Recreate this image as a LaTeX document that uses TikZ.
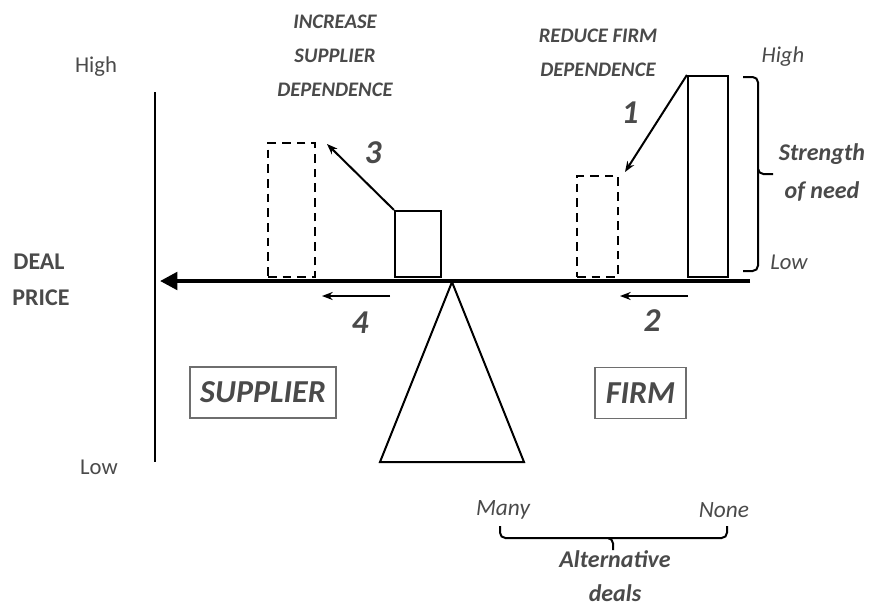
\documentclass[tikz,border=0pt]{standalone}
\usepackage{fontspec}
\setmainfont{Carlito}
\usetikzlibrary{arrows.meta,calc}
\definecolor{txt}{HTML}{4A4A4A}
\begin{document}
\begin{tikzpicture}[x=0.75pt,y=-0.75pt,line width=1.5pt,
  lbl/.style={text=txt,font=\bfseries\itshape,inner sep=0pt},
  plain/.style={text=txt,inner sep=0pt},
  solidbox/.style={draw,line width=1.6pt,inner sep=0pt},
  dashbox/.style={draw,line width=1.6pt,dash pattern=on 6.5pt off 4.5pt,inner sep=0pt},
  namebox/.style={draw=txt!80,line width=0.8pt,text=txt,font=\fontsize{24}{28}\bfseries\itshape\selectfont,inner sep=0pt},
  num/.style={text=txt,font=\fontsize{25}{28}\bfseries\itshape\selectfont,inner sep=0pt},
  thinarrow/.style={-{Stealth[length=8pt,width=6pt]},line width=1.5pt}]
\useasboundingbox (0,0) rectangle (869,608);
% axis
\coordinate (axtop) at (155,92);
\coordinate (axbot) at (155,462);
\draw (axtop) -- (axbot);
\node[plain,font=\fontsize{17}{18}\selectfont] (hiL) at (96,67) {High};
\node[plain,font=\fontsize{17}{18}\selectfont] (loL) at (99,467) {Low};
\node[plain,font=\fontsize{18}{18}\bfseries\selectfont] (deal) at (39,262) {DEAL};
\node[plain,font=\fontsize{18}{18}\bfseries\selectfont] (price) at (41,298) {PRICE};
% beam
\coordinate (beamR) at (750,281);
\coordinate (beamL) at (160,281);
\draw[line width=3pt,-{Triangle[length=13pt,width=13pt]}] (beamR) -- (beamL);
% fulcrum
\coordinate (apex) at (452,282);
\coordinate (baseL) at (380,462);
\coordinate (baseR) at (524,462);
\draw[line width=1.5pt,line join=miter] (apex) -- (baseL) -- (baseR) -- cycle;
% supplier boxes
\node[solidbox,minimum width=34.5pt,minimum height=49.5pt] (sup) at (418,244) {};
\node[dashbox,minimum width=35.25pt,minimum height=100.5pt] (supd) at (291.5,210) {};
\coordinate (a3end) at (327,144);
\draw[thinarrow] (sup.north west) -- (a3end);
\node[num] (n3) at (373,153) {3};
% firm boxes
\node[dashbox,minimum width=30.75pt,minimum height=75.75pt] (firmd) at (597.5,226.5) {};
\node[solidbox,minimum width=30pt,minimum height=150.75pt] (firm) at (708,176.5) {};
\coordinate (a1end) at (625,172);
\draw[thinarrow] (firm.north west) -- (a1end);
\node[num] (n1) at (630,113) {1};
% small arrows 2 and 4
\coordinate (a2s) at (688,296);
\coordinate (a2e) at (620,296);
\draw[thinarrow] (a2s) -- (a2e);
\node[num] (n2) at (652,321) {2};
\coordinate (a4s) at (390,296);
\coordinate (a4e) at (322,296);
\draw[thinarrow] (a4s) -- (a4e);
\node[num] (n4) at (360,323) {4};
% top labels
\node[lbl,align=center,font=\fontsize{15.5}{25.5}\bfseries\itshape\selectfont] (inc) at (335,56) {INCREASE\\SUPPLIER\\DEPENDENCE};
\node[lbl,align=center,font=\fontsize{15.5}{25.5}\bfseries\itshape\selectfont] (red) at (598,53) {REDUCE FIRM\\DEPENDENCE};
% right brace
\coordinate (brT) at (743,77);
\coordinate (brB) at (743,271);
\coordinate (brTip) at (773,174);
\draw[line width=1.5pt,rounded corners=4pt] (brT) -| (758,174) -- (brTip);
\draw[line width=1.5pt,rounded corners=4pt] (758,169) |- (brB);
\node[plain,font=\fontsize{17}{18}\itshape\selectfont] (hiR) at (783,57) {High};
\node[plain,font=\fontsize{17}{18}\itshape\selectfont] (loR) at (789,262) {Low};
\node[lbl,align=center,font=\fontsize{18}{28.5}\bfseries\itshape\selectfont] (need) at (822,172) {Strength\\of need};
% name boxes
\node[namebox,minimum width=109.5pt,minimum height=38.25pt] (supplier) at (263,392.5) {SUPPLIER};
\node[namebox,minimum width=68.25pt,minimum height=38.25pt] (firmname) at (640.5,393) {FIRM};
% bottom brace
\coordinate (bbL) at (500,526);
\coordinate (bbR) at (727,526);
\coordinate (bbTip) at (613,550);
\draw[line width=1.5pt,rounded corners=4pt] (bbL) |- (613,538) -- (bbTip);
\draw[line width=1.5pt,rounded corners=4pt] (608,538) -| (bbR);
\node[plain,font=\fontsize{17.5}{18}\itshape\selectfont] (many) at (503,510) {Many};
\node[plain,font=\fontsize{17.5}{18}\itshape\selectfont] (none) at (724,510) {None};
\node[lbl,align=center,font=\fontsize{18}{25}\bfseries\itshape\selectfont] (alt) at (615,576) {Alternative\\deals};
\end{tikzpicture}
\end{document}
